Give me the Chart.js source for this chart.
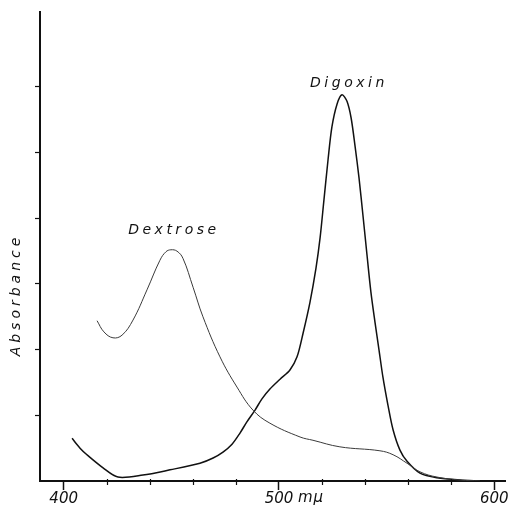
<!DOCTYPE html>
<html>
<head>
<meta charset="utf-8">
<script src="https://cdn.jsdelivr.net/npm/chart.js@4.4.1/dist/chart.umd.min.js"></script>
<style>
  html, body { margin: 0; padding: 0; background: #fff; }
  #wrap { width: 517px; height: 508px; }
</style>
</head>
<body>
<div id="wrap"><canvas id="c" width="517" height="508"></canvas></div>
<script>
// ---- data (wavelength in mμ, absorbance in arbitrary tick units) ----
const dextroseX = [415.5, 418.7, 422.9, 427.1, 432.2, 438.7, 444.7, 447.5, 449.8, 452.6, 455.4, 460.1, 464.7, 472.6, 480.5, 487.9, 495.8, 509.8, 515.8, 528.3, 546.9, 553.0, 559.5, 565.5, 573.4, 584.1, 593.4];
const dextroseY = [2.44, 2.27, 2.18, 2.22, 2.45, 2.91, 3.36, 3.49, 3.52, 3.50, 3.39, 2.95, 2.50, 1.89, 1.43, 1.08, 0.88, 0.67, 0.62, 0.52, 0.46, 0.40, 0.27, 0.14, 0.06, 0.015, 0.0];

const digoxinX = [403.9, 407.6, 410.8, 418.3, 425.2, 436.8, 449.4, 463.3, 469.4, 474.0, 478.2, 481.9, 485.1, 488.9, 492.1, 495.8, 500.5, 505.1, 508.4, 511.2, 514.4, 517.2, 519.1, 520.9, 522.8, 524.6, 527.0, 529.3, 531.6, 533.5, 535.3, 537.2, 539.0, 540.9, 542.7, 544.6, 546.5, 548.3, 550.6, 553.0, 556.2, 559.5, 565.5, 573.4, 584.1, 593.4];
const digoxinY = [0.65, 0.50, 0.40, 0.20, 0.06, 0.09, 0.17, 0.27, 0.35, 0.44, 0.56, 0.73, 0.90, 1.08, 1.25, 1.40, 1.55, 1.69, 1.89, 2.25, 2.72, 3.24, 3.70, 4.28, 4.89, 5.39, 5.74, 5.88, 5.78, 5.53, 5.11, 4.61, 4.05, 3.44, 2.88, 2.42, 1.99, 1.58, 1.16, 0.78, 0.47, 0.30, 0.12, 0.05, 0.015, 0.0];

const xTickValues = [400, 420, 440, 460, 480, 500, 520, 540, 560, 580, 600];
const xTickLabels = [400, 500, 600];
const yTickValues = [1, 2, 3, 4, 5, 6];

const seriesNames = ['Dextrose', 'Digoxin'];
const labelAnchors = { Dextrose: [451.2, 3.82], Digoxin: [532.5, 6.06] };
const xUnit = 'mμ';
const yTitle = 'Absorbance';

function pts(xs, ys) { return xs.map((x, i) => ({ x: x, y: ys[i] })); }

const FONT = '"DejaVu Sans", sans-serif';

const annot = {
  id: 'annot',
  afterDraw(chart) {
    const ctx = chart.ctx;
    const xs = chart.scales.x, ys = chart.scales.y;
    ctx.save();
    ctx.fillStyle = '#111';
    // minor tick marks on x axis
    ctx.strokeStyle = '#111';
    ctx.lineWidth = 1.2;
    xTickValues.forEach(v => {
      if (xTickLabels.includes(v)) return;
      const px = Math.round(xs.getPixelForValue(v)) + 0.5;
      ctx.beginPath();
      ctx.moveTo(px, ys.bottom - 2);
      ctx.lineTo(px, ys.bottom + 4);
      ctx.stroke();
    });
    // series labels
    ctx.font = 'italic 14px ' + FONT;
    ctx.letterSpacing = '3.5px';
    ctx.textAlign = 'center';
    ctx.textBaseline = 'middle';
    seriesNames.forEach(n => {
      const a = labelAnchors[n];
      ctx.fillText(n, xs.getPixelForValue(a[0]), ys.getPixelForValue(a[1]));
    });
    // unit after 500
    ctx.font = 'italic 15px ' + FONT;
    ctx.letterSpacing = '1px';
    ctx.textAlign = 'left';
    ctx.textBaseline = 'alphabetic';
    ctx.fillText(xUnit, xs.getPixelForValue(500) + 19, 502);
    // y title
    ctx.translate(16, 295);
    ctx.rotate(-Math.PI / 2);
    ctx.font = 'italic 14px ' + FONT;
    ctx.letterSpacing = '4px';
    ctx.textAlign = 'center';
    ctx.textBaseline = 'middle';
    ctx.fillText(yTitle, 0, 0);
    ctx.restore();
  }
};

new Chart(document.getElementById('c'), {
  type: 'line',
  data: {
    datasets: [
      { label: seriesNames[0], data: pts(dextroseX, dextroseY), borderColor: '#3a3a3a', borderWidth: 1, pointRadius: 0, tension: 0.4, fill: false },
      { label: seriesNames[1], data: pts(digoxinX, digoxinY), borderColor: '#111', borderWidth: 1.5, pointRadius: 0, tension: 0.3, fill: false }
    ]
  },
  options: {
    responsive: false,
    animation: false,
    events: [],
    layout: { padding: { top: 12, right: 12, left: 0, bottom: 0 } },
    plugins: { legend: { display: false }, tooltip: { enabled: false } },
    scales: {
      x: {
        type: 'linear', min: 389, max: 605,
        afterBuildTicks: s => { s.ticks = xTickValues.map(v => ({ value: v })); },
        afterFit: s => { s.height = 27; },
        border: { color: '#111', width: 2 },
        grid: {
          drawOnChartArea: false, tickLength: 9, tickWidth: 1.5,
          tickColor: c => (c.tick && xTickLabels.includes(c.tick.value)) ? '#111' : 'rgba(0,0,0,0)'
        },
        ticks: {
          autoSkip: false, maxRotation: 0, padding: 0, color: '#111',
          font: { family: FONT, size: 15, style: 'italic' },
          callback: v => xTickLabels.includes(v) ? String(v) : ''
        }
      },
      y: {
        type: 'linear', min: 0, max: 7.14,
        afterBuildTicks: s => { s.ticks = yTickValues.map(v => ({ value: v })); },
        afterFit: s => { s.width = 40; },
        border: { color: '#111', width: 2 },
        grid: { drawOnChartArea: false, tickLength: 5, tickColor: '#111', tickWidth: 1.2 },
        ticks: { callback: () => '', padding: 0 }
      }
    }
  },
  plugins: [annot]
});
</script>
</body>
</html>
